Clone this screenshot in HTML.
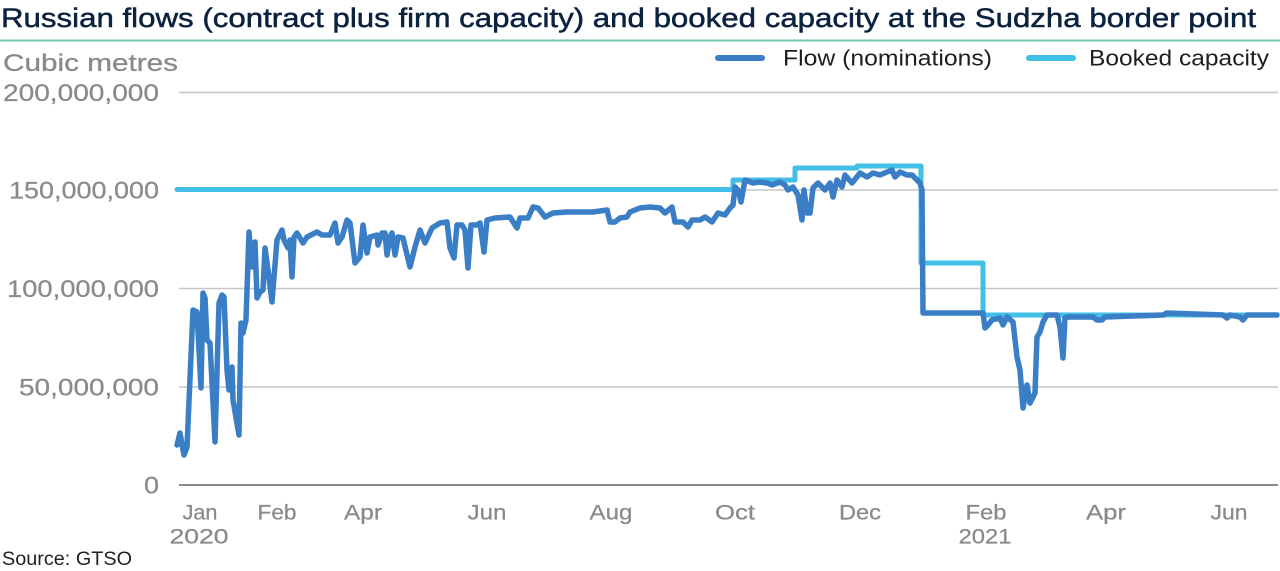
<!DOCTYPE html>
<html>
<head>
<meta charset="utf-8">
<style>
  html,body{margin:0;padding:0;background:#fff;}
  svg{display:block;}
  text{font-family:"Liberation Sans", Arial, sans-serif;}
</style>
</head>
<body>
<svg width="1280" height="571" viewBox="0 0 1280 571" xmlns="http://www.w3.org/2000/svg">
  <rect x="0" y="0" width="1280" height="571" fill="#ffffff"/>

  <!-- Title -->
  <text x="1" y="27" font-size="27" fill="#0b2341" stroke="#0b2341" stroke-width="0.5" textLength="1255" lengthAdjust="spacingAndGlyphs">Russian flows (contract plus firm capacity) and booked capacity at the Sudzha border point</text>
  <line x1="0" y1="40.5" x2="1280" y2="40.5" stroke="#74c7a8" stroke-width="2"/>

  <!-- Axis title -->
  <text x="3" y="71" font-size="24" fill="#8a8a8a" stroke="#8a8a8a" stroke-width="0.3" textLength="175" lengthAdjust="spacingAndGlyphs">Cubic metres</text>

  <!-- Legend -->
  <line x1="718" y1="58" x2="762" y2="58" stroke="#3a7fc6" stroke-width="6" stroke-linecap="round"/>
  <text x="783" y="65.5" font-size="22" fill="#1e1e1e" textLength="209" lengthAdjust="spacingAndGlyphs">Flow (nominations)</text>
  <line x1="1029" y1="58" x2="1073" y2="58" stroke="#41bfe6" stroke-width="6" stroke-linecap="round"/>
  <text x="1089" y="65.5" font-size="22" fill="#1e1e1e" textLength="180" lengthAdjust="spacingAndGlyphs">Booked capacity</text>

  <!-- Gridlines -->
  <g stroke="#c6c6c6" stroke-width="1.5">
    <line x1="179" y1="92.5" x2="1278" y2="92.5"/>
    <line x1="179" y1="190" x2="1278" y2="190"/>
    <line x1="179" y1="288.5" x2="1278" y2="288.5"/>
    <line x1="179" y1="387" x2="1278" y2="387"/>
  </g>
  <line x1="179" y1="485" x2="1278" y2="485" stroke="#8c8c8c" stroke-width="2"/>

  <!-- Y labels -->
  <g font-size="24" fill="#8a8a8a" stroke="#8a8a8a" stroke-width="0.25" text-anchor="end">
    <text x="159" y="101" textLength="156" lengthAdjust="spacingAndGlyphs">200,000,000</text>
    <text x="159" y="198.5" textLength="150" lengthAdjust="spacingAndGlyphs">150,000,000</text>
    <text x="159" y="297" textLength="152" lengthAdjust="spacingAndGlyphs">100,000,000</text>
    <text x="159" y="395.5" textLength="140" lengthAdjust="spacingAndGlyphs">50,000,000</text>
    <text x="159" y="493.5" textLength="15" lengthAdjust="spacingAndGlyphs">0</text>
  </g>

  <!-- X labels -->
  <g font-size="21" fill="#8a8a8a" stroke="#8a8a8a" stroke-width="0.25" text-anchor="middle">
    <text x="200" y="519.5" textLength="35" lengthAdjust="spacingAndGlyphs">Jan</text>
    <text x="199" y="543.5" textLength="59" lengthAdjust="spacingAndGlyphs">2020</text>
    <text x="277" y="519.5" textLength="39" lengthAdjust="spacingAndGlyphs">Feb</text>
    <text x="363" y="519.5" textLength="38" lengthAdjust="spacingAndGlyphs">Apr</text>
    <text x="487" y="519.5" textLength="39" lengthAdjust="spacingAndGlyphs">Jun</text>
    <text x="611" y="519.5" textLength="43" lengthAdjust="spacingAndGlyphs">Aug</text>
    <text x="735" y="519.5" textLength="40" lengthAdjust="spacingAndGlyphs">Oct</text>
    <text x="860" y="519.5" textLength="42" lengthAdjust="spacingAndGlyphs">Dec</text>
    <text x="986" y="519.5" textLength="41" lengthAdjust="spacingAndGlyphs">Feb</text>
    <text x="985" y="543.5" textLength="53" lengthAdjust="spacingAndGlyphs">2021</text>
    <text x="1106" y="519.5" textLength="40" lengthAdjust="spacingAndGlyphs">Apr</text>
    <text x="1229" y="519.5" textLength="37" lengthAdjust="spacingAndGlyphs">Jun</text>
  </g>

  <!-- Source -->
  <text x="2" y="565" font-size="19" fill="#222222" textLength="130" lengthAdjust="spacingAndGlyphs">Source: GTSO</text>

  <!-- Booked capacity -->
  <polyline fill="none" stroke="#41bfe6" stroke-width="5" stroke-linejoin="round" stroke-linecap="round"
    points="177,189.5 733,189.5 733,180 795,180 795,168 857,168 857,166 921,166 921,263 983,263 983,315 1277,315"/>

  <!-- Flow -->
  <polyline fill="none" stroke="#3a7fc6" stroke-width="5.5" stroke-linejoin="round" stroke-linecap="round"
    points="177,445 180,433 183,450 184,455 187,447 193,310 197,312 201,388 203,293 205,298 207,340 210,343 215,442 219,303 222,295 224,297 227,370 229,390 232,367 233,400 239,435 241,323 243,333 246,320 249,232 252,267 255,242 257,298 260,292 263,290 265,248 268,270 272,302 277,240 282,230 284,240 288,248 290,240 292,277 294,237 297,233 303,243 307,237 317,232 322,235 330,235 335,223 338,243 342,237 347,220 350,223 355,263 360,257 363,225 367,253 370,237 377,235 378,245 382,233 385,233 387,255 390,237 392,233 395,255 398,237 403,238 410,267 415,247 420,230 425,243 432,228 440,223 447,222 450,248 454,258 457,225 462,225 465,230 468,268 471,225 477,225 480,223 484,252 487,220 495,218 510,217 517,228 520,218 528,218 533,207 538,208 545,217 553,213 567,212 580,212 593,212 607,210 610,222 615,222 620,218 627,217 630,212 640,208 650,207 660,208 665,213 672,207 675,222 683,222 688,227 692,220 700,220 705,217 712,222 718,213 725,215 730,208 733,205 735,187 738,190 741,202 745,180 753,183 760,182 767,183 772,185 780,182 785,185 788,190 793,187 798,195 802,220 804,190 807,213 810,213 813,188 818,183 825,190 830,183 833,197 837,180 842,187 845,175 852,183 860,173 867,177 873,173 880,175 887,172 892,170 895,177 900,172 907,175 912,175 917,180 920,183 922,190 923,313 983,313 985,328 988,325 992,320 1000,318 1003,325 1007,317 1013,322 1017,357 1020,370 1023,408 1027,385 1030,403 1035,393 1037,337 1040,332 1043,322 1047,315 1057,315 1060,327 1063,358 1065,318 1068,317 1093,317 1097,320 1102,320 1105,317 1163,315 1167,313 1223,315 1227,318 1230,315 1240,317 1243,320 1247,315 1277,315"/>
</svg>
</body>
</html>
